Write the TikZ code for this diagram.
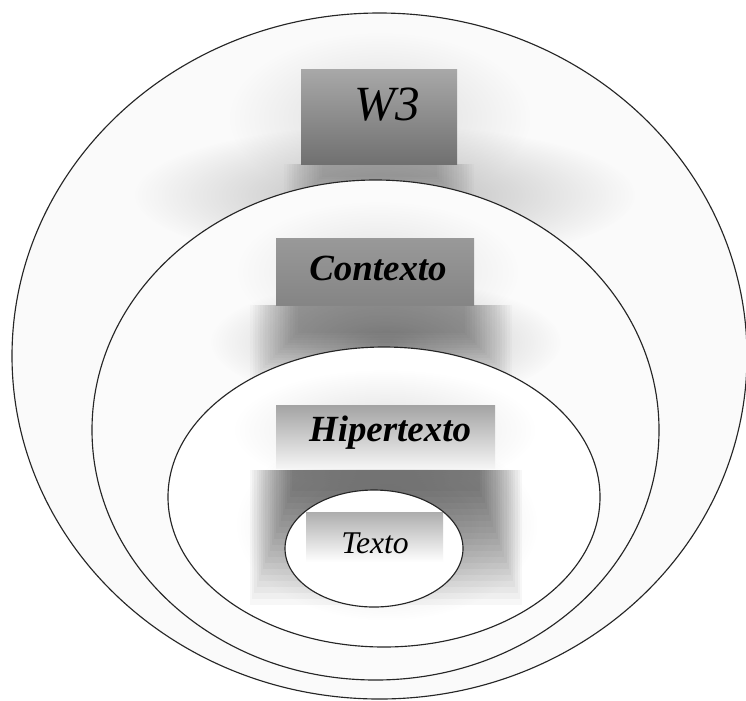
\documentclass[tikz,border=0pt]{standalone}
\usepackage{fontspec}
\setmainfont{Liberation Serif}
\usetikzlibrary{fadings}

\tikzfading[name=softspot, inner color=transparent!0, outer color=transparent!100]
\tikzset{
  ring/.style={draw=black!85, line width=0.65pt},
  glow/.style={fill=black!#1, path fading=softspot},
  veil/.style={fill=black, opacity=#1},
  tag/.style={inner sep=0pt, text=black},
}

\begin{document}
\begin{tikzpicture}[x=0.02cm, y=-0.02cm]
\useasboundingbox (0,0) rectangle (746,700);
% W3 ring
\fill[gray!4] (379.5,356) ellipse [x radius=367.5, y radius=343];
\fill[glow=14] (380,118) ellipse [x radius=150, y radius=85];
\fill[glow=28] (385,195) ellipse [x radius=250, y radius=70];
\foreach \i in {0,...,15}
  \fill[veil=0.016] (284+2.5*\i,164) rectangle (474-2.5*\i,214-2.5*\i);
\shade[top color=black!34, bottom color=black!56] (301,69) rectangle (457,164);
\node[tag, font=\fontsize{28}{30}\selectfont\itshape] (w3) at (387,105) {W3};
% Contexto ring
\fill[gray!3] (375.5,430) ellipse [x radius=283.5, y radius=250];
\fill[glow=12] (378,272) ellipse [x radius=140, y radius=70];
\fill[glow=28] (386,342) ellipse [x radius=175, y radius=62];
\foreach \i in {0,...,19}
  \fill[veil=0.02] (250+2.5*\i,305) rectangle (512-2.5*\i,380-2.5*\i);
\shade[top color=black!40, bottom color=black!48] (276,238) rectangle (474,305);
\node[tag, font=\fontsize{21}{24}\selectfont\bfseries\itshape] (contexto) at (378,268) {Contexto};
% Hipertexto ring
\fill[white] (384,497) ellipse [x radius=216, y radius=150];
\fill[glow=12] (385,430) ellipse [x radius=150, y radius=60];
\fill[glow=16] (387,525) ellipse [x radius=150, y radius=95];
\foreach \i in {0,...,19}
  \fill[veil=0.032] (250+2.2*\i,470) rectangle (522-2.2*\i,605-6*\i);
\shade[top color=black!36, bottom color=black!4] (276,405) rectangle (495,468);
\node[tag, font=\fontsize{21}{24}\selectfont\bfseries\itshape] (hipertexto) at (390,433) {Hipertexto};
% Texto
\fill[white] (374,548.5) ellipse [x radius=89, y radius=58.5];
\shade[top color=black!32, bottom color=white] (306,512) rectangle (443,562);
\node[tag, font=\fontsize{18}{21}\selectfont\itshape] (texto) at (375,543) {Texto};
% outlines
\draw[ring] (379.5,356) ellipse [x radius=367.5, y radius=343];
\draw[ring] (375.5,430) ellipse [x radius=283.5, y radius=250];
\draw[ring] (384,497) ellipse [x radius=216, y radius=150];
\draw[ring] (374,548.5) ellipse [x radius=89, y radius=58.5];
\end{tikzpicture}
\end{document}
